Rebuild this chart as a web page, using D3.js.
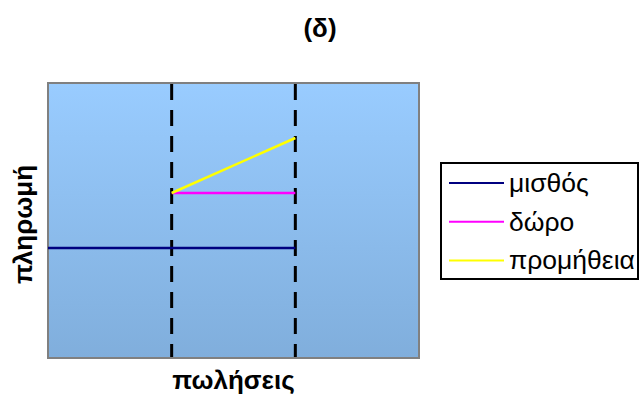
<!DOCTYPE html>
<html><head><meta charset="utf-8">
<script src="https://cdn.jsdelivr.net/npm/d3@7"></script>
<style>body{margin:0;background:#fff}svg{display:block}</style>
</head><body>
<svg id="c" width="640" height="396"></svg>
<script>
const title = "(δ)";
const xLabel = "πωλήσεις";
const yLabel = "πληρωμή";
const seriesNames = ["μισθός", "δώρο", "προμήθεια"];
const seriesColors = ["#000080", "#FF00FF", "#FFFF00"];
const salaryX = [0, 2];
const salaryY = [4, 4];
const bonusX = [1, 2];
const bonusY = [6, 6];
const commissionX = [1, 2];
const commissionY = [6, 8];
const dashedX = [1, 2];
const xDomain = [0, 3];
const yDomain = [0, 10];

const svg = d3.select("#c");
const m = {l: 48, r: 419, t: 83, b: 358};
const x = d3.scaleLinear().domain(xDomain).range([m.l, m.r]);
const y = d3.scaleLinear().domain(yDomain).range([m.b, m.t]);

const defs = svg.append("defs");
const g = defs.append("linearGradient").attr("id", "bg").attr("x1", 0).attr("y1", 0).attr("x2", 0).attr("y2", 1);
g.append("stop").attr("offset", "0%").attr("stop-color", "#99CCFF");
g.append("stop").attr("offset", "100%").attr("stop-color", "#80AEDC");

svg.append("rect").attr("x", m.l).attr("y", m.t).attr("width", m.r - m.l).attr("height", m.b - m.t)
  .attr("fill", "url(#bg)").attr("stroke", "#808080").attr("stroke-width", 2);

svg.selectAll("line.dash").data(dashedX).join("line").attr("class", "dash")
  .attr("x1", d => x(d)).attr("x2", d => x(d)).attr("y1", m.t + 1).attr("y2", m.b - 1)
  .attr("stroke", "#000").attr("stroke-width", 3).attr("stroke-dasharray", "16,10");

const series = [
  {xs: salaryX, ys: salaryY},
  {xs: bonusX, ys: bonusY},
  {xs: commissionX, ys: commissionY}
];
const line = d3.line().x(d => x(d[0])).y(d => y(d[1]));
series.forEach((s, i) => {
  svg.append("path").datum(s.xs.map((v, j) => [v, s.ys[j]]))
    .attr("d", line).attr("fill", "none").attr("stroke", seriesColors[i]).attr("stroke-width", 2.5);
});

const ff = "Liberation Sans, Arial, sans-serif";
svg.append("text").attr("x", 320).attr("y", 37).attr("text-anchor", "middle")
  .attr("font-family", ff).attr("font-weight", "bold").attr("font-size", 26)
  .text(title);
svg.append("text").attr("x", (m.l + m.r) / 2).attr("y", 389).attr("text-anchor", "middle")
  .attr("font-family", ff).attr("font-weight", "bold").attr("font-size", 26)
  .text(xLabel);
svg.append("text").attr("transform", `translate(32,224.5) rotate(-90)`).attr("text-anchor", "middle")
  .attr("font-family", ff).attr("font-weight", "bold").attr("font-size", 26)
  .text(yLabel);

const lg = svg.append("g");
lg.append("rect").attr("x", 441).attr("y", 163).attr("width", 197).attr("height", 116)
  .attr("fill", "#fff").attr("stroke", "#000").attr("stroke-width", 2);
seriesNames.forEach((n, i) => {
  const yy = 183 + i * 38.7;
  lg.append("line").attr("x1", 449).attr("x2", 504).attr("y1", yy).attr("y2", yy)
    .attr("stroke", seriesColors[i]).attr("stroke-width", 2);
  lg.append("text").attr("x", 509).attr("y", yy + 9).attr("font-family", ff)
    .attr("font-size", 26.5).text(n);
});
</script>
</body></html>
